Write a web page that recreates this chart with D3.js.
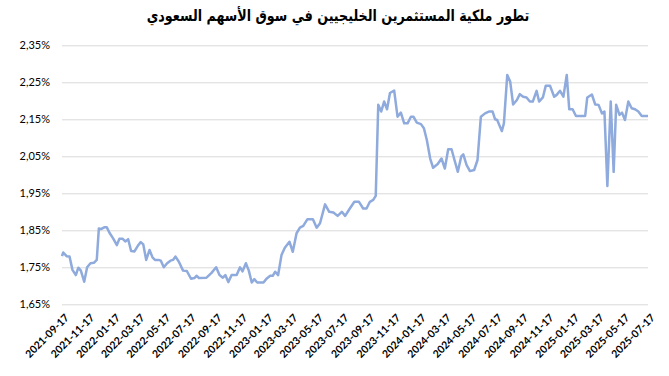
<!DOCTYPE html>
<html>
<head>
<meta charset="utf-8">
<script src="https://cdn.jsdelivr.net/npm/d3@7"></script>
<style>
  body { margin: 0; background: #fff; }
  #chart { width: 669px; height: 376px; }
</style>
</head>
<body>
<div id="chart"></div>
<script>
const title = "تطور ملكية المستثمرين الخليجيين في سوق الأسهم السعودي";

const dates = [
  "2021-09-17","2021-09-20","2021-09-28","2021-10-05","2021-10-12","2021-10-20","2021-10-26","2021-11-01",
  "2021-11-09","2021-11-16","2021-11-24","2021-12-02","2021-12-09","2021-12-14","2021-12-19","2021-12-27",
  "2022-01-02","2022-01-08","2022-01-17","2022-01-26","2022-02-01","2022-02-09","2022-02-15","2022-02-22",
  "2022-03-01","2022-03-09","2022-03-17","2022-03-24","2022-03-30","2022-04-06","2022-04-14","2022-04-21",
  "2022-04-27","2022-05-05","2022-05-11","2022-05-18","2022-05-26","2022-06-03","2022-06-09","2022-06-15",
  "2022-06-23","2022-07-03","2022-07-12","2022-07-22","2022-07-30","2022-08-04","2022-08-10","2022-08-28",
  "2022-09-09","2022-09-20","2022-09-28","2022-10-06","2022-10-12","2022-10-19","2022-10-27","2022-11-08",
  "2022-11-16","2022-11-22","2022-11-30","2022-12-07","2022-12-14","2022-12-20","2022-12-27","2023-01-11",
  "2023-01-19","2023-01-27","2023-02-02","2023-02-08","2023-02-15","2023-02-23","2023-03-03","2023-03-14",
  "2023-03-22","2023-03-31","2023-04-08","2023-04-16","2023-04-26","2023-05-09","2023-05-18","2023-05-26",
  "2023-06-07","2023-06-17","2023-06-27","2023-07-07","2023-07-17","2023-07-25","2023-08-04","2023-08-16",
  "2023-08-27","2023-09-06","2023-09-14","2023-09-22","2023-09-30","2023-10-06","2023-10-12","2023-10-19",
  "2023-10-26","2023-11-02","2023-11-09","2023-11-19","2023-11-27","2023-12-05","2023-12-13","2023-12-21",
  "2023-12-29","2024-01-04","2024-01-12","2024-01-22","2024-01-29","2024-02-05","2024-02-13","2024-02-20",
  "2024-03-02","2024-03-11","2024-03-19","2024-03-27","2024-04-04","2024-04-11","2024-04-19","2024-04-27",
  "2024-05-02","2024-05-10","2024-05-18","2024-05-28","2024-06-05","2024-06-13","2024-06-23","2024-07-02",
  "2024-07-11","2024-07-17","2024-07-22","2024-08-02","2024-08-07","2024-08-15","2024-08-22","2024-08-29",
  "2024-09-07","2024-09-14","2024-09-22","2024-09-30","2024-10-08","2024-10-15","2024-10-24","2024-10-30",
  "2024-11-08","2024-11-15","2024-11-25","2024-12-05","2024-12-11","2024-12-19","2024-12-27","2025-01-04",
  "2025-01-10","2025-01-18","2025-01-26","2025-02-17","2025-02-22","2025-03-05","2025-03-13","2025-03-21",
  "2025-03-29","2025-04-04","2025-04-11","2025-04-19","2025-04-26","2025-05-02","2025-05-10","2025-05-16",
  "2025-05-23","2025-05-31","2025-06-08","2025-06-16","2025-06-24","2025-07-02","2025-07-17"
];

const values = [
  1.780,1.790,1.780,1.779,1.743,1.729,1.749,1.741,
  1.711,1.750,1.761,1.762,1.770,1.855,1.853,1.858,
  1.858,1.844,1.828,1.810,1.827,1.827,1.820,1.826,
  1.794,1.793,1.808,1.818,1.812,1.770,1.797,1.777,
  1.770,1.770,1.768,1.750,1.761,1.768,1.770,1.779,
  1.765,1.741,1.740,1.719,1.721,1.727,1.721,1.722,
  1.735,1.750,1.729,1.722,1.729,1.710,1.729,1.729,
  1.750,1.739,1.761,1.741,1.709,1.718,1.709,1.709,
  1.720,1.727,1.727,1.738,1.729,1.783,1.803,1.819,
  1.792,1.842,1.857,1.862,1.880,1.880,1.857,1.869,
  1.920,1.900,1.898,1.889,1.900,1.889,1.907,1.927,
  1.927,1.909,1.909,1.927,1.932,1.943,2.189,2.171,
  2.198,2.177,2.221,2.228,2.157,2.168,2.139,2.139,
  2.157,2.157,2.141,2.137,2.126,2.094,2.044,2.019,
  2.029,2.044,2.017,2.069,2.069,2.040,2.008,2.049,
  2.055,2.026,2.010,2.013,2.040,2.157,2.166,2.171,
  2.171,2.150,2.148,2.118,2.139,2.270,2.252,2.190,
  2.202,2.218,2.211,2.209,2.198,2.198,2.227,2.198,
  2.209,2.241,2.241,2.211,2.216,2.227,2.211,2.270,
  2.177,2.177,2.159,2.159,2.209,2.217,2.190,2.189,
  2.166,2.171,1.970,2.198,2.008,2.189,2.162,2.168,
  2.148,2.198,2.180,2.177,2.171,2.159,2.159
];

const yTicks = [1.65, 1.75, 1.85, 1.95, 2.05, 2.15, 2.25, 2.35];

const xTickLabels = [
  "2021-09-17","2021-11-17","2022-01-17","2022-03-17","2022-05-17","2022-07-17",
  "2022-09-17","2022-11-17","2023-01-17","2023-03-17","2023-05-17","2023-07-17",
  "2023-09-17","2023-11-17","2024-01-17","2024-03-17","2024-05-17","2024-07-17",
  "2024-09-17","2024-11-17","2025-01-17","2025-03-17","2025-05-17","2025-07-17"
];

const width = 669, height = 376;
const margin = { top: 45.3, right: 21, bottom: 71.7, left: 62 };
const parse = d3.timeParse("%Y-%m-%d");

const data = dates.map((d, i) => ({ date: parse(d), value: values[i] }));

const svg = d3.select("#chart")
  .append("svg")
  .attr("width", width)
  .attr("height", height);

const x = d3.scaleTime()
  .domain([parse(xTickLabels[0]), parse(xTickLabels[xTickLabels.length - 1])])
  .range([margin.left, width - margin.right]);

const y = d3.scaleLinear()
  .domain([1.65, 2.35])
  .range([height - margin.bottom, margin.top]);

// Title (squeezed horizontally to match the narrower original font)
svg.append("g")
  .attr("transform", "translate(338,21) scale(0.82,1)")
  .append("text")
  .attr("text-anchor", "middle")
  .attr("direction", "rtl")
  .style("font-family", "'DejaVu Sans', sans-serif")
  .style("font-weight", "bold")
  .style("font-size", "15.5px")
  .attr("fill", "#000")
  .text(title);

// gridlines
const yAxis = d3.axisLeft(y)
  .tickValues(yTicks)
  .tickSize(-(width - margin.left - margin.right))
  .tickPadding(12)
  .tickFormat(d => d3.format(".2f")(d).replace(".", ",") + "%");

const gy = svg.append("g")
  .attr("transform", `translate(${margin.left},0)`)
  .call(yAxis);
gy.select(".domain").remove();
gy.selectAll(".tick line").attr("stroke", "#d9d9d9").attr("stroke-width", 1);
gy.selectAll(".tick text")
  .attr("fill", "#000")
  .style("font-family", "Lato, sans-serif")
  .style("font-size", "11px");

// x axis labels
const xAxis = d3.axisBottom(x)
  .tickValues(xTickLabels.map(parse))
  .tickSize(0)
  .tickFormat(d3.timeFormat("%Y-%m-%d"));

const gx = svg.append("g")
  .attr("transform", `translate(0,${height - margin.bottom})`)
  .call(xAxis);
gx.select(".domain").remove();
gx.selectAll(".tick text")
  .attr("fill", "#000")
  .attr("text-anchor", "end")
  .attr("dy", 0)
  .attr("transform", "translate(5,12) rotate(-45)")
  .style("font-family", "Lato, sans-serif")
  .style("font-weight", "bold")
  .style("font-size", "10.5px");

// line
const line = d3.line()
  .x(d => x(d.date))
  .y(d => y(d.value));

svg.append("path")
  .datum(data)
  .attr("d", line)
  .attr("fill", "none")
  .attr("stroke", "#8faadc")
  .attr("stroke-width", 2.5)
  .attr("stroke-linejoin", "round");
</script>
</body>
</html>
